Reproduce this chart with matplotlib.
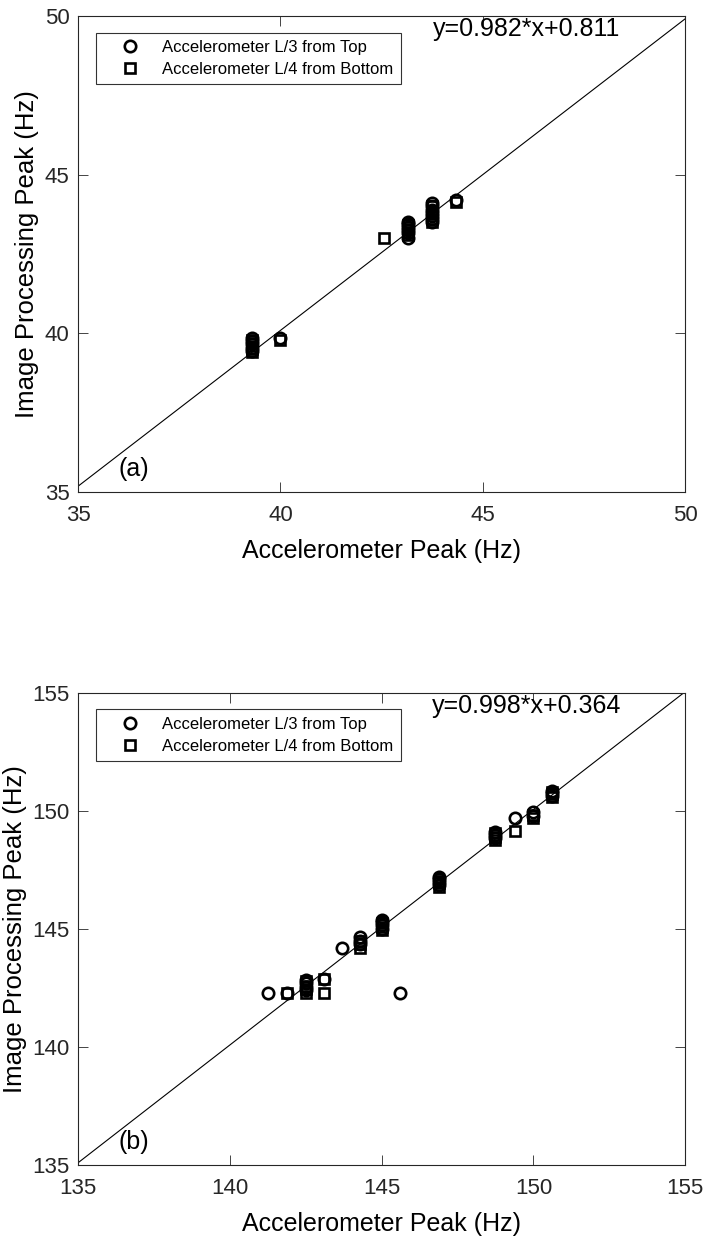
import numpy as np
import matplotlib
matplotlib.use('Agg')
import matplotlib.pyplot as plt

plt.rcParams['font.family'] = ['Liberation Sans', 'DejaVu Sans']

# (a) accelerometer peak vs image processing peak, 35-50 Hz range
# circles: accelerometer L/3 from top, squares: L/4 from bottom
a_top_x = [39.3, 39.3, 39.3, 39.3, 39.3, 40.0,
           43.15, 43.15, 43.15, 43.15, 43.15, 43.15,
           43.75, 43.75, 43.75, 43.75, 43.75, 43.75, 43.75, 44.35]
a_top_y = [39.45, 39.55, 39.65, 39.75, 39.85, 39.85,
           43.0, 43.15, 43.25, 43.35, 43.45, 43.5,
           43.5, 43.6, 43.7, 43.8, 43.9, 44.0, 44.1, 44.2]
a_bot_x = [39.3, 39.3, 39.3, 39.3, 39.3, 40.0, 42.55,
           43.15, 43.15, 43.15, 43.15,
           43.75, 43.75, 43.75, 43.75, 43.75, 44.35]
a_bot_y = [39.4, 39.5, 39.6, 39.7, 39.8, 39.8, 43.0,
           43.1, 43.2, 43.3, 43.4,
           43.5, 43.6, 43.75, 43.85, 44.0, 44.15]
a_fit = (0.982, 0.811)

# (b) 135-155 Hz range
b_top_x = [141.25, 141.9, 142.5, 142.5, 142.5, 142.5, 143.1, 143.7,
           144.3, 144.3, 144.3, 145.0, 145.0, 145.0, 145.0, 145.6,
           146.9, 146.9, 146.9, 146.9, 148.75, 148.75, 148.75, 149.4,
           150.0, 150.0, 150.6, 150.6, 150.6]
b_top_y = [142.3, 142.3, 142.4, 142.55, 142.7, 142.85, 142.9, 144.2,
           144.35, 144.5, 144.65, 145.0, 145.15, 145.3, 145.4, 142.3,
           146.85, 147.0, 147.1, 147.2, 148.85, 149.0, 149.1, 149.7,
           149.8, 149.95, 150.65, 150.75, 150.85]
b_bot_x = [141.9, 142.5, 142.5, 142.5, 142.5, 143.1, 143.1,
           144.3, 144.3, 144.3, 145.0, 145.0, 145.0,
           146.9, 146.9, 146.9, 148.75, 148.75, 148.75, 149.4,
           150.0, 150.0, 150.6, 150.6, 150.6]
b_bot_y = [142.3, 142.3, 142.45, 142.6, 142.8, 142.3, 142.9,
           144.2, 144.35, 144.5, 144.95, 145.1, 145.25,
           146.8, 146.95, 147.05, 148.75, 148.9, 149.05, 149.15,
           149.7, 149.85, 150.6, 150.7, 150.8]
b_fit = (0.998, 0.364)

panels = [
    dict(tx=a_top_x, ty=a_top_y, bx=a_bot_x, by=a_bot_y, fit=a_fit,
         lim=(35, 50), ticks=[35, 40, 45, 50], tag='(a)',
         rect=[0.1105, 0.6029, 0.86, 0.3842]),
    dict(tx=b_top_x, ty=b_top_y, bx=b_bot_x, by=b_bot_y, fit=b_fit,
         lim=(135, 155), ticks=[135, 140, 145, 150, 155], tag='(b)',
         rect=[0.1105, 0.0597, 0.86, 0.381]),
]

fig = plt.figure(figsize=(7.06, 12.39), dpi=100)
dark = '#262626'

for p in panels:
    ax = fig.add_axes(p['rect'])
    ax.plot(p['tx'], p['ty'], 'o', ms=8.2, mfc='none', mec='k', mew=1.9,
            ls='none', label='Accelerometer L/3 from Top')
    ax.plot(p['bx'], p['by'], 's', ms=7.2, mfc='none', mec='k', mew=1.9,
            ls='none', label='Accelerometer L/4 from Bottom')
    xs = np.array(p['lim'], dtype=float)
    m, c = p['fit']
    ax.plot(xs, m * xs + c, color='k', lw=0.8)
    ax.set_xlim(p['lim'])
    ax.set_ylim(p['lim'])
    ax.set_xticks(p['ticks'])
    ax.set_yticks(p['ticks'])
    ax.tick_params(direction='in', top=True, right=True, labelsize=16,
                   colors=dark, length=7, width=0.6)
    ax.tick_params(axis='x', pad=9)
    ax.tick_params(axis='y', pad=6)
    for s in ax.spines.values():
        s.set_color(dark)
        s.set_linewidth(0.8)
    ax.set_xlabel('Accelerometer Peak (Hz)', fontsize=18, color='k',
                  labelpad=10)
    ax.set_ylabel('Image Processing Peak (Hz)', fontsize=18.5, color='k',
                  labelpad=4)
    leg = ax.legend(loc='upper left', bbox_to_anchor=(0.03, 0.965),
                    fontsize=12, frameon=True, fancybox=False,
                    edgecolor='k', borderpad=0.45, handletextpad=0.4,
                    labelspacing=0.4, handlelength=3.1, borderaxespad=0)
    leg.get_frame().set_linewidth(0.8)
    ax.text(0.738, 0.972, f'y={m}*x+{c}', transform=ax.transAxes,
            fontsize=18, ha='center', va='center')
    ax.text(0.066, 0.048, p['tag'], transform=ax.transAxes,
            fontsize=18, ha='left', va='center')

fig.savefig('out.png', dpi=100)
